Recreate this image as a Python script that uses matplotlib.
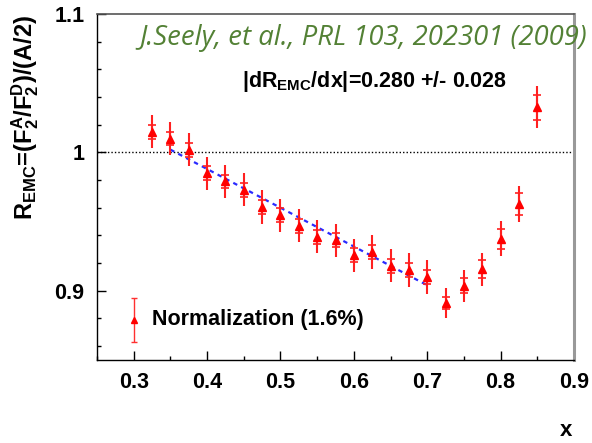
import matplotlib
matplotlib.use('Agg')
import matplotlib.pyplot as plt
from matplotlib.ticker import MultipleLocator
import numpy as np

# EMC ratio data
x_vals = [0.325, 0.35, 0.375, 0.40, 0.425, 0.45, 0.475, 0.50, 0.525, 0.55, 0.575,
          0.60, 0.625, 0.65, 0.675, 0.70, 0.725, 0.75, 0.775, 0.80, 0.825, 0.85]
r_emc = [1.015, 1.010, 1.002, 0.985, 0.979, 0.973, 0.9605, 0.9545, 0.947, 0.939, 0.9365,
         0.9256, 0.928, 0.918, 0.915, 0.910, 0.891, 0.9035, 0.9155, 0.9377, 0.963, 1.0327]
stat_err = [0.005, 0.005, 0.005, 0.005, 0.005, 0.005, 0.005, 0.005, 0.005, 0.005, 0.005,
            0.005, 0.005, 0.005, 0.005, 0.005, 0.0045, 0.0054, 0.0066, 0.0073, 0.008, 0.009]
tot_err = [0.012, 0.012, 0.012, 0.012, 0.012, 0.012, 0.012, 0.012, 0.012, 0.012, 0.012,
           0.012, 0.012, 0.012, 0.012, 0.012, 0.011, 0.0115, 0.012, 0.0126, 0.013, 0.015]

# linear fit shown on the plot
fit_x = [0.35, 0.70]
fit_y = [1.002, 0.904]

# normalization marker
norm_x = 0.30
norm_y = 0.879
norm_err = 0.016

plt.rcParams['mathtext.fontset'] = 'custom'
plt.rcParams['mathtext.rm'] = 'Liberation Sans'
plt.rcParams['mathtext.bf'] = 'Liberation Sans:bold'

fig = plt.figure(figsize=(5.92, 4.43), dpi=100)
ax = fig.add_axes([0.1639, 0.1874, 0.9696 - 0.1639, 0.9684 - 0.1874])

ax.axhline(1.0, color='black', ls=(0, (1, 1.5)), lw=1.0, zorder=1)
ax.plot(fit_x, fit_y, color='#2a2aff', ls=(0, (2, 2)), lw=1.6, zorder=2)

ax.errorbar(x_vals, r_emc, yerr=tot_err, fmt='none', ecolor='#ff2020', elinewidth=1.5,
            capsize=0, zorder=3)
ax.errorbar(x_vals, r_emc, yerr=stat_err, fmt='^', color='red', ms=5.5, ecolor='#ff2020',
            elinewidth=1.5, capsize=3.2, capthick=1.2, zorder=4)

ax.errorbar([norm_x], [norm_y], yerr=[norm_err], fmt='^', color='red', ms=4.5,
            ecolor='#ff3030', elinewidth=1.0, capsize=2.5, capthick=1.0)
ax.text(0.3248, 0.879, 'Normalization (1.6%)', fontsize=15.5, fontweight='bold',
        family='Liberation Sans', va='center', ha='left')

ax.set_xlim(0.25, 0.9)
ax.set_ylim(0.85, 1.1)
ax.xaxis.set_major_locator(MultipleLocator(0.1))
ax.xaxis.set_minor_locator(MultipleLocator(0.05))
ax.yaxis.set_major_locator(MultipleLocator(0.1))
ax.yaxis.set_minor_locator(MultipleLocator(0.02))
ax.set_xticks([0.3, 0.4, 0.5, 0.6, 0.7, 0.8, 0.9])
ax.set_xticklabels(['0.3', '0.4', '0.5', '0.6', '0.7', '0.8', '0.9'])
ax.set_yticks([0.9, 1.0, 1.1])
ax.set_yticklabels(['0.9', '1', '1.1'])
ax.tick_params(which='both', direction='in', top=False, right=False, width=1.0)
ax.tick_params(which='major', length=6.5)
ax.tick_params(which='minor', length=3)
ax.tick_params(axis='x', which='major', pad=9)
ax.tick_params(axis='y', which='major', pad=9)
for lab in ax.get_xticklabels() + ax.get_yticklabels():
    lab.set_fontsize(15.5)
    lab.set_fontweight('bold')
    lab.set_family('Liberation Sans')

ax.spines['right'].set_color('#999999')
ax.spines['right'].set_linewidth(2.2)
ax.spines['top'].set_color('#555555')
ax.spines['top'].set_linewidth(1.2)
ax.spines['left'].set_linewidth(1.0)
ax.spines['bottom'].set_linewidth(1.0)

fig.text(25 / 592, 1 - 15 / 443,
         r'$\mathbf{R_{EMC}}$=$\mathbf{(F_2^A/F_2^D)/(A/2)}$',
         rotation=90, ha='center', va='top', fontsize=17, fontweight='bold',
         family='Liberation Sans')

fig.text(242 / 592, 1 - 82 / 443, r'|dR$_{\mathbf{EMC}}$/dx|=0.280 +/- 0.028',
         ha='left', va='center', fontsize=15.5, fontweight='bold', family='Liberation Sans')
fig.text(139 / 592, 1 - 38 / 443, 'J.Seely, et al., PRL 103, 202301 (2009)',
         ha='left', va='center', fontsize=19.8, style='italic', color='#538135',
         family='Open Sans')

fig.text(566 / 592, 1 - 430 / 443, 'x', ha='center', va='center', fontsize=16,
         fontweight='bold', family='Liberation Sans')

fig.savefig('out.png', dpi=100)
